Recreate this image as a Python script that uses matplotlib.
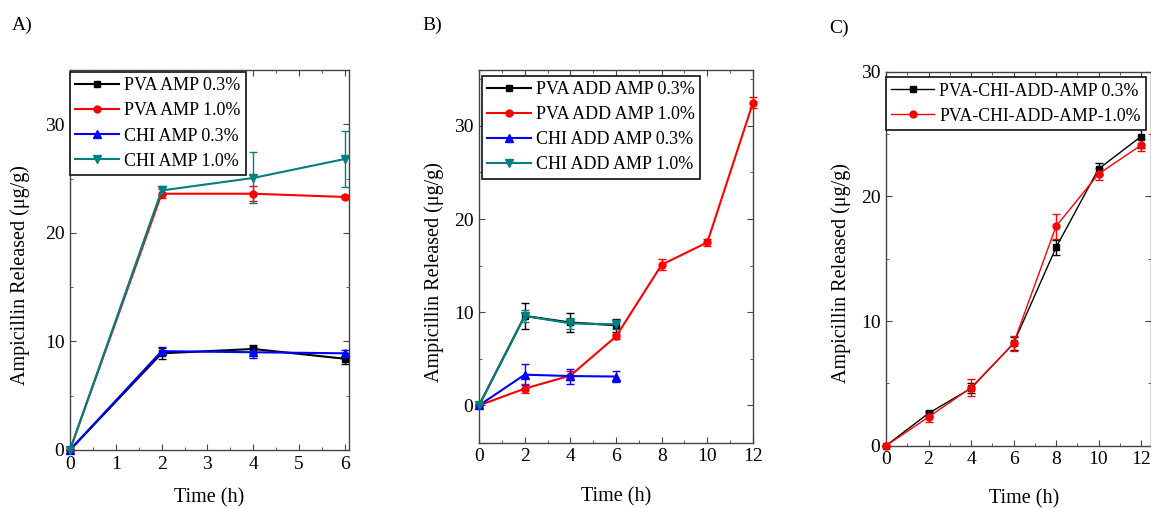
import matplotlib
matplotlib.use("Agg")
import matplotlib.pyplot as plt
from matplotlib.ticker import MultipleLocator

plt.rcParams['font.family'] = ['Liberation Serif', 'DejaVu Serif']
plt.rcParams['mathtext.fontset'] = 'dejavuserif'

# ---------------- Panel A data ----------------
time_a = [0, 2, 4, 6]
pva_amp_03 = [0, 8.9, 9.3, 8.4]
pva_amp_03_err = [0, 0.5, 0.4, 0.5]
pva_amp_10 = [0, 23.6, 23.6, 23.3]
pva_amp_10_err = [0, 0.4, 0.7, 0.2]
chi_amp_03 = [0, 9.1, 9.0, 8.9]
chi_amp_03_err = [0, 0.4, 0.5, 0.3]
chi_amp_10 = [0, 23.9, 25.05, 26.8]
chi_amp_10_err = [0, 0.4, 2.35, 2.6]
labels_a = ["PVA AMP 0.3%", "PVA AMP 1.0%", "CHI AMP 0.3%", "CHI AMP 1.0%"]

# ---------------- Panel B data ----------------
time_b = [0, 2, 4, 6]
time_b_long = [0, 2, 4, 6, 8, 10, 12]
pva_add_03 = [0, 9.6, 8.9, 8.6]
pva_add_03_err = [0, 1.35, 1.0, 0.7]
pva_add_10 = [0, 1.8, 3.2, 7.4, 15.1, 17.5, 32.5]
pva_add_10_err = [0, 0.5, 0.5, 0.3, 0.6, 0.4, 0.6]
chi_add_03 = [0, 3.3, 3.15, 3.1]
chi_add_03_err = [0, 1.1, 0.8, 0.6]
chi_add_10 = [0, 9.6, 8.8, 8.7]
chi_add_10_err = [0, 0.6, 0.6, 0.5]
labels_b = ["PVA ADD AMP 0.3%", "PVA ADD AMP 1.0%", "CHI ADD AMP 0.3%", "CHI ADD AMP 1.0%"]

# ---------------- Panel C data ----------------
time_c = [0, 2, 4, 6, 8, 10, 12]
pvachi_03 = [0, 2.6, 4.6, 8.2, 15.9, 22.2, 24.8]
pvachi_03_err = [0, 0.2, 0.4, 0.5, 0.6, 0.5, 0.9]
pvachi_10 = [0, 2.3, 4.65, 8.2, 17.6, 21.8, 24.1]
pvachi_10_err = [0, 0.4, 0.7, 0.6, 1.0, 0.5, 0.5]
labels_c = ["PVA-CHI-ADD-AMP 0.3%", "PVA-CHI-ADD-AMP-1.0%"]

BLACK = "#000000"
RED = "#ff0000"
BLUE = "#0000ff"
TEAL = "#008080"
SPINE = "#444444"

fig = plt.figure(figsize=(11.51, 5.09), dpi=100)

ax_a = fig.add_axes([0.0608, 0.116, 0.2424, 0.7466])
ax_b = fig.add_axes([0.4162, 0.1303, 0.2380, 0.7322])
ax_c = fig.add_axes([0.7698, 0.1244, 0.2302, 0.7347])


def style(ax, ylab_xy, xlab_xy):
    for s in ax.spines.values():
        s.set_color(SPINE)
        s.set_linewidth(1.0)
    ax.tick_params(which='both', direction='in', top=True, right=True,
                   labelsize=14, color=SPINE, pad=4)
    ax.tick_params(which='major', length=4)
    ax.tick_params(which='minor', length=2.5)
    ax.set_xlabel("Time (h)", fontsize=14.5)
    ax.set_ylabel("Ampicillin Released (μg/g)", fontsize=14.5)
    ax.yaxis.label.set_va('center')
    ax.xaxis.label.set_va('center')
    ax.yaxis.set_label_coords(*ylab_xy)
    ax.xaxis.set_label_coords(*xlab_xy)


def series(ax, x, y, e, color, marker, label, lw=1.5, ms=5):
    ax.errorbar(x, y, yerr=e, color=color, marker=marker, markersize=ms,
                linewidth=lw, elinewidth=1.0, capsize=3, capthick=1.0,
                label=label, clip_on=False, zorder=3)


# Panel A
series(ax_a, time_a, pva_amp_03, pva_amp_03_err, BLACK, 's', labels_a[0], ms=4.5)
series(ax_a, time_a, pva_amp_10, pva_amp_10_err, RED, 'o', labels_a[1])
series(ax_a, time_a, chi_amp_03, chi_amp_03_err, BLUE, '^', labels_a[2], ms=5.5)
series(ax_a, time_a, chi_amp_10, chi_amp_10_err, TEAL, 'v', labels_a[3], ms=5.5)
ax_a.set_xlim(0, 6.09)
ax_a.set_ylim(0, 35)
ax_a.xaxis.set_major_locator(MultipleLocator(1))
ax_a.xaxis.set_minor_locator(MultipleLocator(0.5))
ax_a.yaxis.set_major_locator(MultipleLocator(10))
ax_a.yaxis.set_minor_locator(MultipleLocator(5))
style(ax_a, (-0.18, 0.46), (0.50, -0.125))

# Panel B
series(ax_b, time_b, pva_add_03, pva_add_03_err, BLACK, 's', labels_b[0], ms=4.5)
series(ax_b, time_b_long, pva_add_10, pva_add_10_err, RED, 'o', labels_b[1])
series(ax_b, time_b, chi_add_03, chi_add_03_err, BLUE, '^', labels_b[2], ms=5.5)
series(ax_b, time_b, chi_add_10, chi_add_10_err, TEAL, 'v', labels_b[3], ms=5.5)
ax_b.set_xlim(0, 12)
ax_b.set_ylim(-4, 36)
ax_b.xaxis.set_major_locator(MultipleLocator(2))
ax_b.xaxis.set_minor_locator(MultipleLocator(1))
ax_b.yaxis.set_major_locator(MultipleLocator(10))
ax_b.yaxis.set_minor_locator(MultipleLocator(5))
style(ax_b, (-0.164, 0.458), (0.50, -0.146))

# Panel C
series(ax_c, time_c, pvachi_03, pvachi_03_err, BLACK, 's', labels_c[0], lw=1.0, ms=5)
series(ax_c, time_c, pvachi_10, pvachi_10_err, RED, 'o', labels_c[1], lw=1.0, ms=5)
ax_c.set_xlim(0, 12.47)
ax_c.set_ylim(0, 30)
ax_c.xaxis.set_major_locator(MultipleLocator(2))
ax_c.xaxis.set_minor_locator(MultipleLocator(1))
ax_c.yaxis.set_major_locator(MultipleLocator(10))
ax_c.yaxis.set_minor_locator(MultipleLocator(5))
style(ax_c, (-0.17, 0.462), (0.52, -0.1425))

for ax, anchor, fs, ls in [(ax_a, (0.0, 0.995), 13, 0.45),
                           (ax_b, (0.01, 0.985), 13, 0.45),
                           (ax_c, (0.0, 0.985), 12.8, 0.45)]:
    handles, labels = ax.get_legend_handles_labels()
    handles = [h[0] for h in handles]
    leg = ax.legend(handles, labels, loc='upper left', fontsize=fs,
                    frameon=True, fancybox=False, framealpha=1,
                    edgecolor='#222222', borderpad=0.3, handlelength=2.4,
                    handletextpad=0.3, labelspacing=ls, borderaxespad=0.0,
                    bbox_to_anchor=anchor)
    leg.get_frame().set_linewidth(1.3)

fig.text(12 / 1151, 1 - 25 / 509, "A)", fontsize=14, va='center', ha='left')
fig.text(422 / 1151, 1 - 25 / 509, "B)", fontsize=14, va='center', ha='left')
fig.text(829 / 1151, 1 - 28 / 509, "C)", fontsize=14, va='center', ha='left')

fig.savefig("out.png", dpi=100)
